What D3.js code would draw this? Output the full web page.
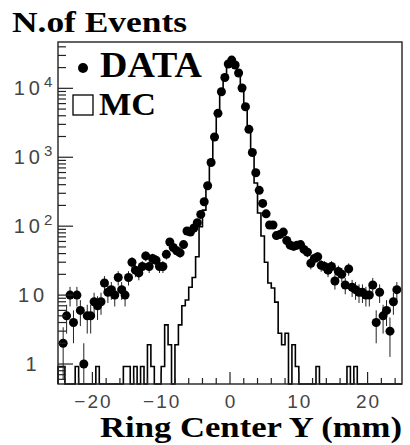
<!DOCTYPE html>
<html>
<head>
<meta charset="utf-8">
<script src="https://cdn.jsdelivr.net/npm/d3@7"></script>
<style>
  body { margin: 0; background: #fff; }
  svg { display: block; }
</style>
</head>
<body>
<div id="chart"></div>
<script>
// 100 bins of 0.5 mm between -25 and 25 mm
const binStart = -25;
const binWidth = 0.5;

// measured events per bin (0 = empty)
const dataCounts = [
  0, 2, 5, 10, 4, 10, 6, 1, 5, 5,
  8, 7, 8, 15, 11, 12, 10, 18, 12, 10,
  18, 30, 23, 21, 26, 37, 26, 34, 32, 26,
  26, 39, 59, 49, 44, 41, 54, 85, 82, 94,
  112, 148, 226, 386, 838, 1965, 4335, 8920, 14330, 22500,
  25700, 21770, 16670, 10100, 5400, 2540, 1170, 596, 331, 214,
  151, 104, 104, 73, 76, 82, 62, 53, 51, 53,
  54, 46, 42, 29, 34, 36, 27, 26, 23, 26,
  16, 22, 20, 14, 24, 13, 12, 11, 11, 10,
  10, 14, 4, 11, 5, 6, 3, 8, 12, 0
];

// monte carlo, normalised to the data
const mcCounts = [
  0.92, 0.92, 0, 0, 0, 0.92, 0, 0, 0, 0,
  0, 0.92, 0, 0, 0, 0, 0, 0, 0, 0.92,
  0.92, 0, 0.92, 0, 0.92, 0, 1.9, 0.92, 0, 0,
  0.92, 3.7, 1.9, 0, 1.9, 3.7, 7, 8.5, 13, 18,
  36, 98, 171, 423, 771, 1900, 4300, 8900, 14300, 22500,
  25700, 21800, 16700, 10100, 5400, 2540, 1080, 423, 155, 72,
  30, 15, 12.7, 7.9, 2.8, 1.9, 2.8, 0, 1.9, 0.92,
  0, 0, 0, 0, 0, 0.92, 0, 0, 0, 0,
  0, 0, 0, 0, 0.92, 0, 0.92, 0, 0, 0,
  0, 0, 0, 0, 0, 0, 0, 0, 0, 0
];

const xTickLabels = [-20, -10, 0, 10, 20];
const yDecades = [1, 10, 100, 1000, 10000];

const width = 410, height = 445;
const margin = {top: 42, right: 8, bottom: 61, left: 58};

const svg = d3.select("#chart").append("svg")
    .attr("width", width)
    .attr("height", height);

const x = d3.scaleLinear()
    .domain([-25, 25])
    .range([margin.left, width - margin.right]);

const y = d3.scaleLog()
    .domain([0.513, 47000])
    .range([height - margin.bottom, margin.top])
    .clamp(true);

const yBottom = height - margin.bottom;

const bins = dataCounts.map((d, i) => ({
  lo: binStart + i * binWidth,
  hi: binStart + (i + 1) * binWidth,
  mid: binStart + (i + 0.5) * binWidth,
  data: d,
  mc: mcCounts[i]
}));

const plot = svg.append("g");

// MC histogram as a step line
let path = d3.path();
path.moveTo(x(binStart), yBottom);
bins.forEach(b => {
  let yy = b.mc > 0 ? y(b.mc) : yBottom;
  path.lineTo(x(b.lo), yy);
  path.lineTo(x(b.hi), yy);
});
path.lineTo(x(binStart + bins.length * binWidth), yBottom);

plot.append("path")
    .attr("d", path.toString())
    .attr("fill", "none")
    .attr("stroke", "#000")
    .attr("stroke-width", 1.6);

// data points with sqrt(N) errors
let pts = bins.filter(b => b.data > 0);

plot.selectAll("line.err")
    .data(pts)
  .enter().append("line")
    .attr("class", "err")
    .attr("x1", d => x(d.mid))
    .attr("x2", d => x(d.mid))
    .attr("y1", d => {
      let lo = d.data - Math.sqrt(d.data);
      return lo > 0 ? y(lo) : yBottom;
    })
    .attr("y2", d => y(d.data + Math.sqrt(d.data)))
    .attr("stroke", "#222")
    .attr("stroke-width", 1);

plot.selectAll("circle.pt")
    .data(pts)
  .enter().append("circle")
    .attr("class", "pt")
    .attr("cx", d => x(d.mid))
    .attr("cy", d => y(d.data))
    .attr("r", 4.5)
    .attr("fill", "#000");

// frame
svg.append("rect")
    .attr("x", margin.left)
    .attr("y", margin.top)
    .attr("width", width - margin.left - margin.right)
    .attr("height", height - margin.top - margin.bottom)
    .attr("fill", "none")
    .attr("stroke", "#222")
    .attr("stroke-width", 1.4);

// ticks inside the frame
let xMinor = d3.range(-24, 25, 2);
svg.selectAll("line.xt")
    .data(xMinor)
  .enter().append("line")
    .attr("class", "xt")
    .attr("x1", d => x(d))
    .attr("x2", d => x(d))
    .attr("y1", yBottom)
    .attr("y2", d => yBottom - (d % 10 === 0 ? 12 : 6))
    .attr("stroke", "#222")
    .attr("stroke-width", 1.2);

let yMinor = [];
[0.1, 1, 10, 100, 1000, 10000].forEach(dec => {
  for (let k = 1; k <= 9; k++) {
    let v = dec * k;
    if (v >= 0.513 && v <= 47000) yMinor.push({v: v, major: k === 1});
  }
});
svg.selectAll("line.yt")
    .data(yMinor)
  .enter().append("line")
    .attr("class", "yt")
    .attr("x1", margin.left)
    .attr("x2", d => margin.left + (d.major ? 15 : 8))
    .attr("y1", d => y(d.v))
    .attr("y2", d => y(d.v))
    .attr("stroke", "#222")
    .attr("stroke-width", 1.2);

// tick labels
svg.selectAll("text.xl")
    .data(xTickLabels)
  .enter().append("text")
    .attr("class", "xl")
    .attr("x", d => x(d) + 1)
    .attr("y", 408)
    .attr("text-anchor", "middle")
    .attr("font-family", "Liberation Sans, Arial, sans-serif")
    .attr("font-size", 19)
    .attr("letter-spacing", 2)
    .attr("fill", "#444")
    .text(d => d < 0 ? "\u2212" + Math.abs(d) : d);

let yl = svg.selectAll("text.yl")
    .data(yDecades)
  .enter().append("text")
    .attr("class", "yl")
    .attr("x", 33)
    .attr("y", d => y(d) + 7)
    .attr("text-anchor", "middle")
    .attr("font-family", "Liberation Sans, Arial, sans-serif")
    .attr("font-size", 20)
    .attr("letter-spacing", 4)
    .attr("fill", "#444");
yl.each(function(d) {
  let t = d3.select(this);
  let p = Math.round(Math.log10(d));
  if (p === 0) t.text("1");
  else if (p === 1) t.text("10");
  else {
    t.append("tspan").text("10");
    t.append("tspan").attr("dy", -8).attr("font-size", 15)
        .attr("letter-spacing", 0).text(p);
  }
});

// axis titles
svg.append("text")
    .attr("x", 12)
    .attr("y", 32)
    .attr("font-family", "Liberation Serif, Times New Roman, serif")
    .attr("font-weight", "bold")
    .attr("font-size", 29)
    .attr("textLength", 175)
    .attr("lengthAdjust", "spacingAndGlyphs")
    .text("N.of Events");

svg.append("text")
    .attr("x", 100)
    .attr("y", 437)
    .attr("font-family", "Liberation Serif, Times New Roman, serif")
    .attr("font-weight", "bold")
    .attr("font-size", 29)
    .attr("textLength", 302)
    .attr("lengthAdjust", "spacingAndGlyphs")
    .text("Ring Center Y (mm)");

// legend
svg.append("circle")
    .attr("cx", 83).attr("cy", 68).attr("r", 5)
    .attr("fill", "#000");
svg.append("text")
    .attr("x", 100).attr("y", 77)
    .attr("font-family", "Liberation Serif, Times New Roman, serif")
    .attr("font-weight", "bold")
    .attr("font-size", 36)
    .attr("textLength", 102)
    .attr("lengthAdjust", "spacingAndGlyphs")
    .text("DATA");
svg.append("rect")
    .attr("x", 73).attr("y", 95).attr("width", 20).attr("height", 20)
    .attr("fill", "none").attr("stroke", "#000").attr("stroke-width", 1.3);
svg.append("text")
    .attr("x", 99).attr("y", 115)
    .attr("font-family", "Liberation Serif, Times New Roman, serif")
    .attr("font-weight", "bold")
    .attr("font-size", 32)
    .attr("textLength", 57)
    .attr("lengthAdjust", "spacingAndGlyphs")
    .text("MC");
</script>
</body>
</html>
